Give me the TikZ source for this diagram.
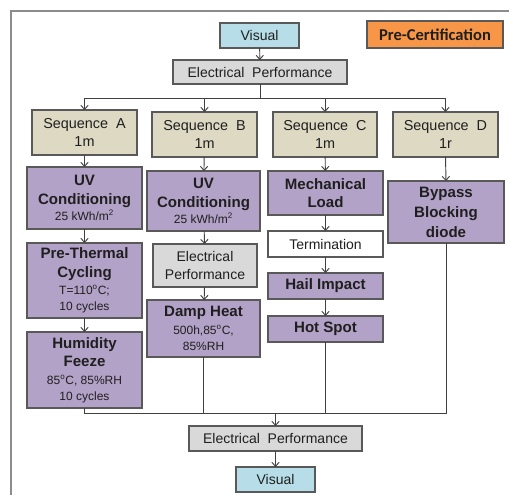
\documentclass[tikz,border=0pt]{standalone}
\usepackage{fontspec}
\setmainfont{Liberation Sans}
\newfontfamily\calibfont{Carlito}
\usetikzlibrary{arrows.meta}

\definecolor{visblue}{HTML}{B7DEE8}
\definecolor{epgray}{HTML}{D9D9D9}
\definecolor{seqtan}{HTML}{DDD9C3}
\definecolor{testpurple}{HTML}{B3A2C7}
\definecolor{certorange}{HTML}{F79646}
\definecolor{boxedge}{HTML}{595959}
\definecolor{wire}{HTML}{404040}
\definecolor{ink}{HTML}{1F1F1F}
\definecolor{framegray}{HTML}{8C8C8C}

% title / detail fonts used inside the test boxes
\newcommand\tf{\bfseries\fontsize{11.3}{13}\selectfont}
\newcommand\df{\mdseries\fontsize{9}{11}\selectfont}

% box given by its corner pixels: name, x1, y1, x2, y2, style, text
\newcommand\placebox[7]{%
  \node[#6, minimum width={(#4-#2)*0.75pt}, minimum height={(#5-#3)*0.75pt}]
    (#1) at ({(#2+#4)/2},{(#3+#5)/2}) {#7};}

\tikzset{
  box/.style={draw=boxedge, line width=0.9pt, inner sep=0pt, outer sep=0pt,
    align=center, text=ink, font=\fontsize{10.5}{12}\selectfont},
  visual/.style={box, fill=visblue},
  elec/.style={box, fill=epgray},
  seqbox/.style={box, fill=seqtan, font=\fontsize{10.8}{14}\selectfont},
  test/.style={box, fill=testpurple},
  plain/.style={box, fill=white},
  cert/.style={box, fill=certorange, font=\calibfont\bfseries\fontsize{12.4}{14}\selectfont},
  link/.style={draw=wire, line width=0.7pt},
  arr/.style={link, -{Straight Barb[length=3pt,width=5.5pt]}},
}

\begin{document}
\begin{tikzpicture}[x=0.75pt, y=-0.75pt]
\useasboundingbox (0,0) rectangle (509,495);

% page frame
\draw[framegray, line width=1.1pt] (11,495) -- (11,11) -- (509,11);

% header
\placebox{vis1}{220}{23}{299}{48}{visual}{Visual}
\placebox{cert}{367}{21}{503}{48}{cert}{Pre-Certification}
\placebox{ep1}{173}{60}{347}{84}{elec}{Electrical\ \ Performance}

% sequences
\placebox{sa}{32}{110}{137}{155}{seqbox}{Sequence\ \ A\\1m}
\placebox{sb}{152}{112}{257}{157}{seqbox}{Sequence\ \ B\\1m}
\placebox{sc}{273}{112}{377}{157}{seqbox}{Sequence\ \ C\\1m}
\placebox{sd}{393}{112}{498}{157}{seqbox}{Sequence\ \ D\\1r}

% sequence A
\placebox{uva}{27}{167}{142}{229}{test}{\tf UV\\[2pt]\tf Conditioning\\\df 25 kWh/m\textsuperscript{2}}
\placebox{ptc}{27}{243}{142}{318}{test}{\tf Pre-Thermal\\[2pt]\tf Cycling\\[1pt]\df T=110\textsuperscript{o}C;\\\df 10 cycles}
\placebox{hf}{27}{332}{142}{408}{test}{\tf Humidity\\[2pt]\tf Feeze\\[1pt]\df 85\textsuperscript{o}C, 85\%RH\\\df 10 cycles}

% sequence B
\placebox{uvb}{147}{171}{260}{231}{test}{\tf UV\\[2pt]\tf Conditioning\\\df 25 kWh/m\textsuperscript{2}}
\placebox{epb}{153}{244}{257}{287}{elec}{Electrical\\[2pt]Performance}
\placebox{dh}{147}{300}{260}{357}{test}{\tf Damp Heat\\[1pt]\df 500h,85\textsuperscript{o}C,\\\df 85\%RH}

% sequence C
\placebox{ml}{268}{171}{383}{215}{test}{\tf Mechanical\\[2pt]\tf Load}
\placebox{term}{268}{231}{383}{257}{plain}{Termination}
\placebox{hi}{268}{273}{383}{299}{test}{\tf Hail Impact}
\placebox{hs}{268}{316}{383}{342}{test}{\tf Hot Spot}

% sequence D
\placebox{bd}{388}{181}{504}{243}{test}{\tf Bypass\\[3pt]\tf Blocking\\[3pt]\tf diode}

% closing checks
\placebox{ep2}{189}{426}{362}{451}{elec}{Electrical\ \ Performance}
\placebox{vis2}{236}{467}{315}{492}{visual}{Visual}

% fan-out to the sequences
\coordinate (bus) at (260,98);
\draw[arr] (vis1) -- (ep1);
\draw[link] (ep1.south) -- (bus);
\foreach \s in {sa,sb,sc,sd} \draw[arr] (bus) -| (\s.north);

% steps within each sequence
\draw[arr] (sa) -- (uva);
\draw[arr] (uva) -- (ptc);
\draw[arr] (ptc) -- (hf);
\draw[arr] (sb) -- (uvb);
\draw[arr] (uvb) -- (epb);
\draw[arr] (epb) -- (dh);
\draw[arr] (sc) -- (ml);
\draw[arr] (ml) -- (term);
\draw[arr] (term) -- (hi);
\draw[arr] (hi) -- (hs);
\draw[arr] (sd.south) -- (bd.north);

% merge into the final checks
\coordinate (join) at (275.5,413);
\foreach \s in {hf,dh,hs,bd} \draw[link] (\s.south) |- (join);
\draw[arr] (join) -- (ep2.north);
\draw[arr] (ep2) -- (vis2);
\end{tikzpicture}
\end{document}
